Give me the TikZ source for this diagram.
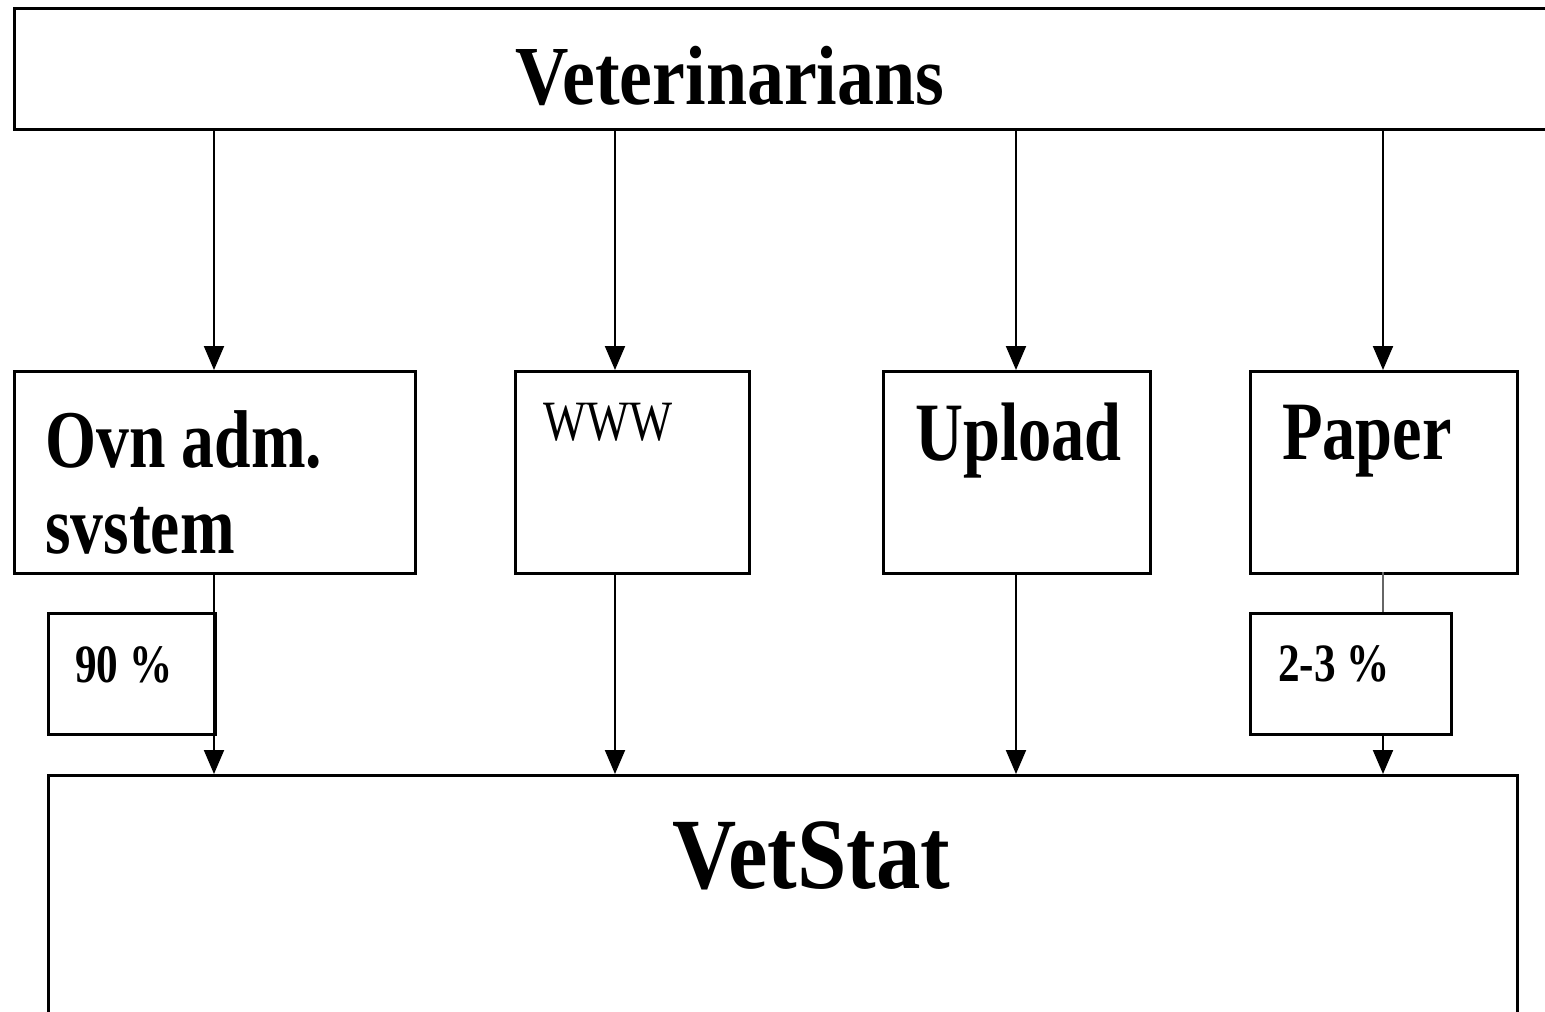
\documentclass[tikz,border=0pt]{standalone}
\usepackage{fontspec}
\setmainfont{Liberation Serif}[FakeStretch=0.88]
\newfontfamily\condfont{Liberation Serif}[FakeStretch=0.8]
\usetikzlibrary{arrows.meta}
\tikzset{
  box/.style={draw, line width=3pt, rectangle, anchor=north west, inner sep=0pt},
  lbl/.style={anchor=base west, inner sep=0pt},
  conn/.style={line width=2.5pt},
  arr/.style={line width=2pt, -{Triangle[width=20pt,length=24pt]}},
}
\begin{document}
\begin{tikzpicture}[x=1pt,y=-1pt]
\useasboundingbox[fill=white] (0,0) rectangle (1545,1012);
% main boxes
\node[box, minimum width=1560, minimum height=121] (vet) at (13,7) {};
\node[box, minimum width=1469, minimum height=260] (stat) at (47,774) {};
% middle boxes
\node[box, minimum width=401, minimum height=202] (ovn) at (13,370) {};
\node[box, minimum width=234, minimum height=202] (www) at (514,370) {};
\node[box, minimum width=267, minimum height=202] (upl) at (882,370) {};
\node[box, minimum width=267, minimum height=202] (pap) at (1249,370) {};
% small boxes
\node[box, minimum width=167, minimum height=121] (p90) at (47,612) {};
\node[box, minimum width=201, minimum height=121] (p23) at (1249,612) {};
% texts
\node[anchor=base, inner sep=0pt] (tvet) at (730,104) {\fontsize{84}{90}\selectfont\bfseries Veterinarians};
\node[lbl] (tstat) at (672,888) {\fontsize{101}{110}\selectfont\bfseries VetStat};
\node[lbl] (tovn1) at (45,467) {\condfont\fontsize{82}{86}\selectfont\bfseries Ovn adm.};
\node[lbl] (tovn2) at (45,553) {\condfont\fontsize{82}{86}\selectfont\bfseries svstem};
\node[lbl] (twww) at (543,440) {\condfont\fontsize{57}{60}\selectfont WWW};
\node[lbl] (tupl) at (915,460) {\condfont\fontsize{83}{86}\selectfont\bfseries Upload};
\node[lbl] (tpap) at (1282,459) {\condfont\fontsize{83}{86}\selectfont\bfseries Paper};
\node[lbl] (t90) at (75,682) {\condfont\fontsize{54}{58}\selectfont\bfseries 90 \%};
\node[lbl] (t23) at (1278,681) {\condfont\fontsize{54}{58}\selectfont\bfseries 2-3 \%};
% connector coordinates
\coordinate (a1) at (214,128); \coordinate (a2) at (615,128);
\coordinate (a3) at (1016,128); \coordinate (a4) at (1383,128);
\coordinate (b1) at (214,370); \coordinate (b2) at (615,370);
\coordinate (b3) at (1016,370); \coordinate (b4) at (1383,370);
\coordinate (c1) at (214,572); \coordinate (c2) at (615,572);
\coordinate (c3) at (1016,572); \coordinate (c4) at (1383,572);
\coordinate (d4) at (1383,612); \coordinate (e4) at (1383,733);
\coordinate (s1) at (214,774); \coordinate (s2) at (615,774);
\coordinate (s3) at (1016,774); \coordinate (s4) at (1383,774);
% top arrows
\draw[arr] (a1) -- (b1);
\draw[arr] (a2) -- (b2);
\draw[arr] (a3) -- (b3);
\draw[arr] (a4) -- (b4);
% bottom arrows
\draw[arr] (c1) -- (s1);
\draw[arr] (c2) -- (s2);
\draw[arr] (c3) -- (s3);
\draw[conn, draw=black!60] (c4) -- (d4);
\draw[arr] (e4) -- (s4);
\end{tikzpicture}
\end{document}
